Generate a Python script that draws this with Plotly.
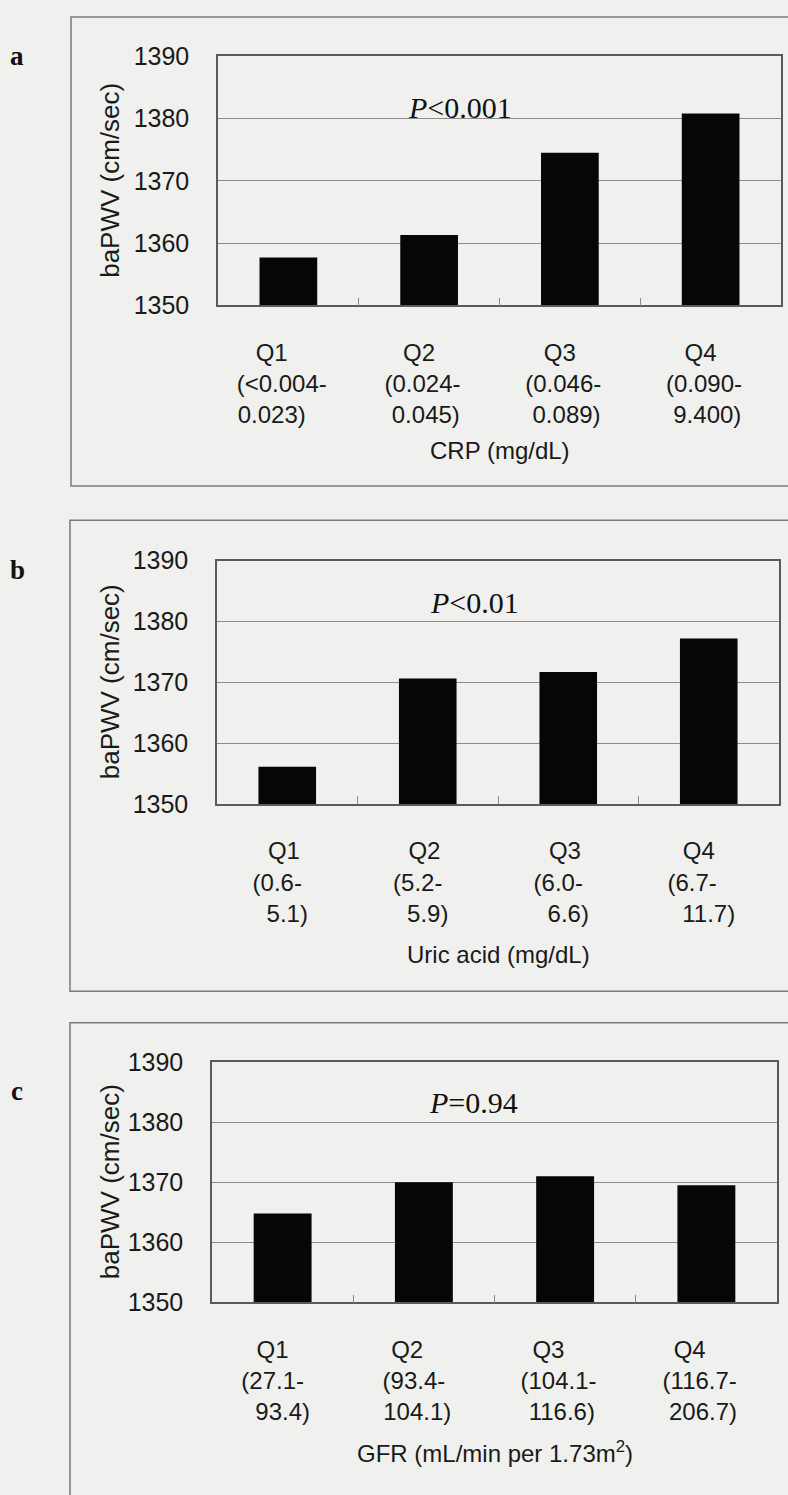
import plotly.graph_objects as go

# ---------------- data ----------------
quartiles = ["Q1", "Q2", "Q3", "Q4"]
crp_lo = ["(&lt;0.004-", "(0.024-", "(0.046-", "(0.090-"]
crp_hi = ["0.023)", "0.045)", "0.089)", "9.400)"]
crp_values = [1357.7, 1361.3, 1374.5, 1380.8]

uric_lo = ["(0.6-", "(5.2-", "(6.0-", "(6.7-"]
uric_hi = ["5.1)", "5.9)", "6.6)", "11.7)"]
uric_values = [1356.1, 1370.6, 1371.7, 1377.2]

gfr_lo = ["(27.1-", "(93.4-", "(104.1-", "(116.7-"]
gfr_hi = ["93.4)", "104.1)", "116.6)", "206.7)"]
gfr_values = [1364.8, 1370.0, 1371.0, 1369.5]

y_ticks = [1350, 1360, 1370, 1380, 1390]
panel_letters = ["a", "b", "c"]
x_titles = ["CRP (mg/dL)", "Uric acid (mg/dL)", "GFR (mL/min per 1.73m<sup>2</sup>)"]
p_texts = ["<i>P</i>&lt;0.001", "<i>P</i>&lt;0.01", "<i>P</i>=0.94"]
y_title = "baPWV (cm/sec)"

# ---------------- styling / geometry ----------------
W, H = 788, 1495
BG = "#f0f0ee"
SANS = "Liberation Sans, Arial, sans-serif"
SERIF = "Liberation Serif, Times New Roman, serif"
NB = "\u00a0"

# plot-area pixel boxes (left, right, top, bottom)
boxes = [(218, 781, 43, 297), (217, 779, 557, 805), (212, 777, 1068, 1313)]
# outer panel frames (left, top, bottom)
frames = [(71, 3, 481), (70, 516, 996), (70, 1028, 1520)]
p_pos = [(0.43, 0.795), (0.459, 0.826), (0.462, 0.83)]
letter_y = [43, 567, 1098]
xtitle_gap = [148, 153, 152]
# indentation (in no-break spaces) of the first and third label lines
q_indent = [[3, 3, 3, 3], [2, 2, 2, 2], [2, 1, 2, 2]]
hi_indent = [[0, 1, 1, 1], [2, 2, 2, 2], [2, 0, 1, 1]]
SHIFT = 2  # extra trailing no-break spaces: moves label blocks slightly left

CW = {".": .278, "(": .333, ")": .333, "-": .333, "<": .584, "Q": .778, NB: .278}


def twidth(s):
    s = s.replace("&lt;", "<")
    return sum(CW.get(c, .556) for c in s)


def block(lines, indents):
    """left-align lines of a tick label by padding with no-break spaces"""
    lines = [NB * k + s for s, k in zip(lines, indents)]
    w = [twidth(s) for s in lines]
    m = max(w)
    return "<br>".join(s + NB * (int(round((m - wi) / .278)) + SHIFT)
                       for s, wi in zip(lines, w))


panels = [(crp_lo, crp_hi, crp_values), (uric_lo, uric_hi, uric_values),
          (gfr_lo, gfr_hi, gfr_values)]


def px(x):
    return x / W


def py(y):
    return 1 - y / H


fig = go.Figure()
annotations = []
shapes = []
for i, ((lo, hi, values), (l, r, t, b)) in enumerate(zip(panels, boxes)):
    n = "" if i == 0 else str(i + 1)
    labels = [block([q, a, c], [q_indent[i][j], 0, hi_indent[i][j]])
              for j, (q, a, c) in enumerate(zip(quartiles, lo, hi))]
    fig.add_trace(go.Bar(x=labels, y=values, width=0.41,
                         marker=dict(color="#060606", line=dict(width=0)),
                         xaxis="x" + n, yaxis="y" + n, showlegend=False,
                         hoverinfo="y"))
    fig.layout["xaxis" + n] = dict(
        domain=[px(l), px(r)], anchor="y" + n, type="category",
        tickson="boundaries", ticks="inside", ticklen=8, tickcolor="#888",
        showgrid=False, showline=True, linecolor="#5a5a5a", linewidth=1.5, mirror=True,
        tickfont=dict(family=SANS, size=24, color="#1a1a1a"),
        ticklabelstandoff=25, fixedrange=True)
    fig.layout["yaxis" + n] = dict(
        domain=[py(b), py(t)], anchor="x" + n, range=[1350, 1390],
        tickvals=y_ticks, ticks="", showgrid=True, gridcolor="#8c8c8c", gridwidth=1,
        showline=True, linecolor="#5a5a5a", linewidth=1.5, mirror=True, zeroline=False,
        tickfont=dict(family=SANS, size=25, color="#1a1a1a"),
        ticklabelstandoff=22, fixedrange=True)
    dom_h = b - t
    annotations.append(dict(text=p_texts[i], xref="x" + n + " domain", yref="y" + n + " domain",
                            x=p_pos[i][0], y=p_pos[i][1], showarrow=False,
                            xanchor="center", yanchor="middle",
                            font=dict(family=SERIF, size=30, color="#111")))
    annotations.append(dict(text=x_titles[i], xref="x" + n + " domain", yref="y" + n + " domain",
                            x=0.5, y=-xtitle_gap[i] / dom_h, showarrow=False,
                            xanchor="center", yanchor="middle",
                            font=dict(family=SANS, size=24, color="#1a1a1a")))
    annotations.append(dict(text=y_title, xref="paper", yref="y" + n + " domain",
                            x=px(110), y=0.5, textangle=-90, showarrow=False,
                            xanchor="center", yanchor="middle",
                            font=dict(family=SANS, size=26, color="#1a1a1a")))
    annotations.append(dict(text="<b>" + panel_letters[i] + "</b>", xref="paper", yref="paper",
                            x=px(17), y=py(letter_y[i]), showarrow=False,
                            xanchor="center", yanchor="middle",
                            font=dict(family=SERIF, size=27, color="#111")))
    fl, ft, fb = frames[i]
    shapes.append(dict(type="rect", xref="paper", yref="paper",
                       x0=px(fl), x1=px(820), y0=py(fb), y1=py(ft),
                       line=dict(color="#7a7a7a", width=1.5), layer="below"))

fig.update_layout(width=W, height=H, margin=dict(l=0, r=0, t=0, b=0),
                  paper_bgcolor=BG, plot_bgcolor=BG, bargap=0.6,
                  annotations=annotations, shapes=shapes)

fig.write_html("out.html", config={"displayModeBar": False},
               post_script="document.body.style.margin='0';"
                           "document.body.style.overflow='hidden';"
                           "document.body.style.background='" + BG + "';")
